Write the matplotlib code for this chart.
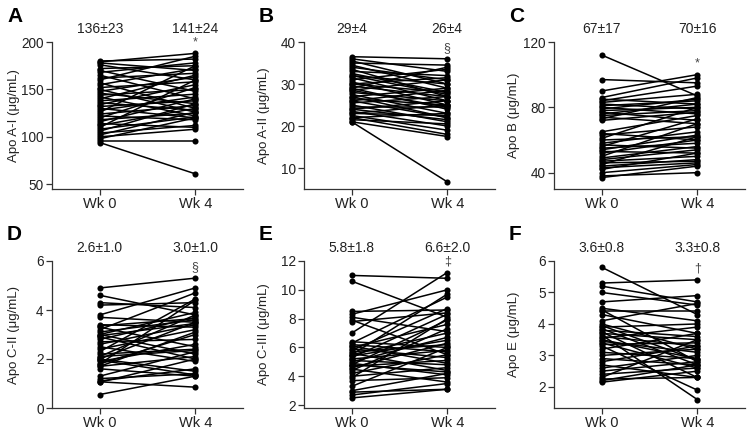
import numpy as np
import matplotlib
matplotlib.use('Agg')
import matplotlib.pyplot as plt
import matplotlib.transforms as mtransforms

plt.rcParams['font.family'] = ['Liberation Sans', 'DejaVu Sans']

weeks = ['Wk 0', 'Wk 4']

# Apo A-I (ug/mL)
a1_wk0 = [180, 179, 178, 176, 172, 170, 168, 165, 162, 160, 157, 155, 152, 150, 148, 146, 144, 142, 140, 138, 136,
          134, 132, 130, 128, 126, 124, 122, 120, 118, 116, 114, 112, 110, 108, 106, 104, 102, 100, 98, 96, 94]
a1_wk4 = [182, 188, 170, 160, 175, 148, 178, 140, 167, 185, 130, 172, 158, 126, 163, 135, 150, 122, 165, 145, 128,
          155, 138, 120, 142, 175, 133, 118, 152, 125, 140, 110, 130, 160, 121, 135, 112, 126, 108, 120, 96, 61]

# Apo A-II
a2_wk0 = [36.5, 36, 35.5, 35, 34.5, 34, 33.5, 33, 32.5, 32, 31.5, 31, 30.5, 30, 29.5, 29, 28.5, 28, 27.5, 27, 26.5,
          26, 25.5, 25, 24.5, 24, 23.5, 23, 23, 22.5, 22, 22, 21.5, 21, 21, 28.5, 30, 27, 32, 26, 24, 29]
a2_wk4 = [36, 33, 30, 34.5, 29, 31, 27, 32, 28, 30, 26, 33.5, 25, 28, 27, 24, 31, 26, 23, 29, 25,
          22, 27, 21, 24.5, 26, 20, 25, 22.5, 19, 23, 18, 20.5, 17.5, 6.7, 24.5, 31.5, 22, 27.5, 28.5, 21.5, 34]

# Apo B
b_wk0 = [112, 97, 90, 86, 85, 84, 83, 82, 81, 80, 79, 78, 77, 76, 75, 74, 73, 72, 65, 64, 63,
         61, 60, 58, 57, 56, 55, 54, 53, 52, 50, 49, 48, 47, 46, 45, 44, 43, 42, 40, 38, 37]
b_wk4 = [87, 95, 100, 98, 82, 93, 88, 79, 84, 76, 85, 80, 72, 82, 78, 70, 86, 77, 75, 60, 68,
         80, 62, 65, 55, 73, 58, 63, 52, 60, 70, 56, 54, 50, 47, 62, 48, 46, 52, 45, 40, 44]

# Apo C-II
c2_wk0 = [4.9, 4.6, 4.3, 4.2, 3.8, 3.7, 3.4, 3.3, 3.2, 3.1, 3.0, 3.0, 2.9, 2.8, 2.7, 2.6, 2.5, 2.4, 2.3, 2.2,
          2.1, 2.0, 2.0, 1.9, 1.8, 1.8, 1.7, 1.7, 1.6, 1.3, 1.2, 1.1, 1.05, 0.55, 3.35, 2.95, 2.1, 1.95, 1.07]
c2_wk4 = [5.3, 3.8, 4.1, 4.3, 4.9, 3.5, 3.3, 2.5, 4.7, 3.6, 2.2, 3.9, 2.0, 3.7, 2.8, 3.4, 1.9, 3.2, 4.45, 2.4,
          3.8, 1.5, 3.5, 2.6, 4.4, 3.0, 2.1, 3.1, 1.3, 2.3, 1.4, 1.6, 2.0, 1.3, 3.65, 3.45, 2.35, 1.35, 0.85]

# Apo C-III
c3_wk0 = [11.0, 10.6, 8.5, 8.3, 8.1, 7.9, 7.8, 7.0, 6.4, 6.3, 6.1, 6.0, 5.9, 5.8, 5.7, 5.6, 5.5, 5.4, 5.3, 5.2,
          5.1, 5.0, 4.9, 4.8, 4.7, 4.6, 4.5, 4.4, 4.2, 4.0, 3.9, 3.7, 3.3, 3.0, 2.9, 2.7, 2.5, 5.5, 4.8, 6.2]
c3_wk4 = [10.8, 8.1, 8.6, 10.0, 7.1, 5.5, 8.4, 11.2, 6.0, 9.5, 4.9, 7.6, 5.3, 8.7, 6.2, 4.4, 7.0, 6.5, 8.3, 5.8,
          4.8, 6.7, 4.1, 7.9, 5.1, 6.3, 3.6, 7.3, 5.5, 4.6, 8.0, 3.9, 6.0, 4.2, 3.1, 3.5, 3.1, 9.7, 4.3, 5.7]

# Apo E
e_wk0 = [5.8, 5.3, 5.2, 5.0, 4.7, 4.5, 4.45, 4.4, 4.3, 4.0, 3.9, 3.85, 3.8, 3.75, 3.7, 3.65, 3.6, 3.55, 3.5,
         3.45, 3.4, 3.35, 3.3, 3.2, 3.1, 3.0, 2.9, 2.8, 2.7, 2.6, 2.5, 2.4, 2.3, 2.25, 2.2, 2.15, 4.1, 3.95]
e_wk4 = [4.3, 5.4, 4.7, 4.6, 4.9, 4.1, 2.8, 4.4, 3.7, 3.2, 4.0, 2.7, 3.6, 2.3, 3.5, 1.6, 3.3, 3.9, 2.9,
         3.1, 2.6, 3.4, 1.9, 3.7, 2.9, 3.2, 2.7, 3.3, 2.3, 3.0, 2.8, 2.6, 3.5, 2.3, 2.7, 2.5, 4.65, 2.85]

panels = [
    ('A', 'Apo A-I (\u03bcg/mL)', a1_wk0, a1_wk4, ('136\u00b123', '141\u00b124'), '*', (45, 200), [50, 100, 150, 200]),
    ('B', 'Apo A-II (\u03bcg/mL)', a2_wk0, a2_wk4, ('29\u00b14', '26\u00b14'), '\u00a7', (5, 40), [10, 20, 30, 40]),
    ('C', 'Apo B (\u03bcg/mL)', b_wk0, b_wk4, ('67\u00b117', '70\u00b116'), '*', (30, 120), [40, 80, 120]),
    ('D', 'Apo C-II (\u03bcg/mL)', c2_wk0, c2_wk4, ('2.6\u00b11.0', '3.0\u00b11.0'), '\u00a7', (0, 6), [0, 2, 4, 6]),
    ('E', 'Apo C-III (\u03bcg/mL)', c3_wk0, c3_wk4, ('5.8\u00b11.8', '6.6\u00b12.0'), '\u2021', (1.8, 12), [2, 4, 6, 8, 10, 12]),
    ('F', 'Apo E (\u03bcg/mL)', e_wk0, e_wk4, ('3.6\u00b10.8', '3.3\u00b10.8'), '\u2020', (1.33, 6), [2, 3, 4, 5, 6]),
]

fig = plt.figure(figsize=(7.53, 4.33), dpi=100)
W, H = 753, 433
lefts = [52, 304, 554]
starts = [0, 250, 500]
tops = [42, 261]
ax_w, ax_h = 191, 147
txt = '#222222'

for k, (letter, ylab, w0, w4, stats, sym, ylim, yticks) in enumerate(panels):
    row, col = divmod(k, 3)
    l = lefts[col]
    t = tops[row]
    ax = fig.add_axes([l / W, (H - t - ax_h) / H, ax_w / W, ax_h / H])
    for v0, v4 in zip(w0, w4):
        ax.plot([0, 1], [v0, v4], color='black', linewidth=1.1, marker='o', markersize=4.4,
                markerfacecolor='black', markeredgewidth=0, solid_capstyle='round')
    ax.set_xlim(-0.5, 1.5)
    ax.set_ylim(*ylim)
    ax.set_xticks([0, 1])
    ax.set_xticklabels(weeks)
    ax.set_yticks(yticks)
    for s in ['top', 'right']:
        ax.spines[s].set_visible(False)
    for s in ['left', 'bottom']:
        ax.spines[s].set_color('#333333')
        ax.spines[s].set_linewidth(0.9)
    ax.tick_params(direction='out', length=4, width=0.9, color='#333333', labelcolor=txt, pad=2)
    ax.tick_params(axis='x', labelsize=10.5)
    ax.tick_params(axis='y', labelsize=9.8)
    ax.set_ylabel(ylab, fontsize=9.5, color=txt)
    ax.yaxis.set_label_coords(-(l - starts[col] - 20) / ax_w, 0.5)

    trans = mtransforms.blended_transform_factory(ax.transData, ax.transAxes)
    for xi, s in enumerate(stats):
        ax.text(xi, 1 + 13 / ax_h, s, transform=trans, ha='center', va='center', fontsize=10, color=txt)
    ax.annotate(sym, (1, max(w4)), xytext=(0, 8), textcoords='offset points', ha='center', va='center',
                fontsize=9, color='#444444')
    fig.text((l - 45) / W, 1 - (t - 26) / H, letter, fontsize=15, fontweight='bold', ha='left', va='center',
             color='black')

fig.savefig('out.png', dpi=100)
